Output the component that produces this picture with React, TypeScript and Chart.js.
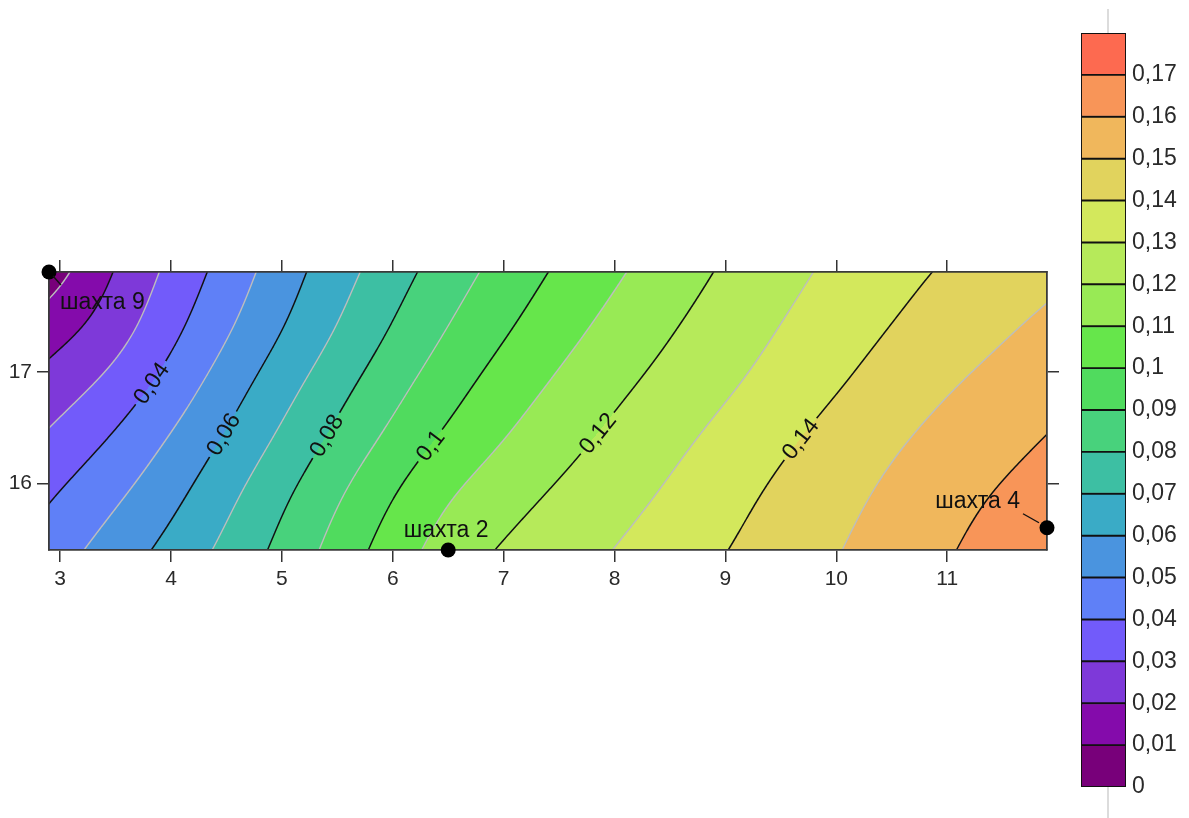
import React, { useEffect, useRef } from 'react';
import { Chart, registerables } from 'chart.js';

Chart.register(...registerables);

// ---------- data ----------
const gridX = [2.9, 3.4, 3.9, 4.4, 4.9, 5.4, 5.9, 6.4, 6.9, 7.4, 7.9, 8.4, 8.9, 9.4, 9.9, 10.4, 10.9, 11.4, 11.9];
const gridY = [17.9, 17.4, 16.9, 16.4, 15.9, 15.4];
const z179 = [0.005, 0.0183, 0.0302, 0.0417, 0.053, 0.0639, 0.0739, 0.0834, 0.0921, 0.1001, 0.1072, 0.1139, 0.1202, 0.1258, 0.1312, 0.136, 0.1404, 0.1441, 0.1475];
const z174 = [0.0155, 0.0226, 0.0346, 0.0462, 0.0572, 0.068, 0.0785, 0.0884, 0.0971, 0.1048, 0.1118, 0.1181, 0.1238, 0.1292, 0.1344, 0.1393, 0.1438, 0.148, 0.152];
const z169 = [0.0236, 0.0312, 0.0414, 0.0527, 0.0638, 0.0745, 0.0846, 0.0942, 0.1029, 0.1102, 0.1167, 0.1222, 0.1274, 0.1326, 0.138, 0.1432, 0.1482, 0.1524, 0.1563];
const z164 = [0.0316, 0.0395, 0.0489, 0.0588, 0.0697, 0.0803, 0.0905, 0.1003, 0.1085, 0.1153, 0.1212, 0.1264, 0.1318, 0.1372, 0.1426, 0.1476, 0.1524, 0.1568, 0.1605];
const z159 = [0.0392, 0.0468, 0.0551, 0.0653, 0.0763, 0.0868, 0.0978, 0.1082, 0.1151, 0.1206, 0.1254, 0.1302, 0.1357, 0.1411, 0.1461, 0.151, 0.1562, 0.1604, 0.1635];
const z154 = [0.045, 0.0529, 0.0612, 0.0704, 0.0805, 0.0913, 0.1029, 0.113, 0.1202, 0.1247, 0.1292, 0.134, 0.1388, 0.1436, 0.1485, 0.1534, 0.1585, 0.1627, 0.1665];
const fieldRows = [z179, z174, z169, z164, z159, z154];

const bandLevels = [0, 0.01, 0.02, 0.03, 0.04, 0.05, 0.06, 0.07, 0.08, 0.09, 0.1, 0.11, 0.12, 0.13, 0.14, 0.15, 0.16, 0.17, 0.18];
const bandColors = [
  '#78007a', '#840bab', '#7e39d9', '#725bfa', '#5f80f7', '#4a94df',
  '#3aabc6', '#3dbfa3', '#48d27c', '#50db5e', '#66e64b', '#98ea55',
  '#b6ea5a', '#d3e85c', '#e1d35d', '#f0b75c', '#f89558', '#fd6a50',
];
const colorbarTicks = [0, 0.01, 0.02, 0.03, 0.04, 0.05, 0.06, 0.07, 0.08, 0.09, 0.1, 0.11, 0.12, 0.13, 0.14, 0.15, 0.16, 0.17];

const xTicks = [3, 4, 5, 6, 7, 8, 9, 10, 11];
const yTicks = [16, 17];

const contourLabelLevels = [0.04, 0.06, 0.08, 0.1, 0.12, 0.14];
const contourLabelY = [16.9, 16.44, 16.43, 16.34, 16.45, 16.4];

const wellNames = ['шахта 9', 'шахта 2', 'шахта 4'];
const wellX = [2.9, 6.5, 11.9];
const wellY = [17.9, 15.4, 15.6];

// ---------- helpers ----------
const FONT = "'Liberation Sans', Arial, sans-serif";
const fmt = (v: number) => String(Math.round(v * 100) / 100).replace('.', ',');

function hexToRgb(h: string) {
  const n = parseInt(h.slice(1), 16);
  return [(n >> 16) & 255, (n >> 8) & 255, n & 255];
}

// uniform cubic B-spline blend (smooth surface through the read grid)
function bs(p0: number, p1: number, p2: number, p3: number, t: number) {
  const t2 = t * t, t3 = t2 * t;
  const b0 = (1 - t) * (1 - t) * (1 - t) / 6;
  const b1 = (3 * t3 - 6 * t2 + 4) / 6;
  const b2 = (-3 * t3 + 3 * t2 + 3 * t + 1) / 6;
  const b3 = t3 / 6;
  return b0 * p0 + b1 * p1 + b2 * p2 + b3 * p3;
}

function fieldAt(x: number, y: number) {
  const nx = gridX.length, ny = gridY.length;
  const fx = (x - gridX[0]) / (gridX[1] - gridX[0]);
  const fy = (gridY[0] - y) / (gridY[0] - gridY[1]);
  let i = Math.floor(fx), j = Math.floor(fy);
  i = Math.max(0, Math.min(nx - 2, i));
  j = Math.max(0, Math.min(ny - 2, j));
  const tx = fx - i, ty = fy - j;
  const col = (r: number[], k: number) => (k < 0 ? 2 * r[0] - r[1] : k > nx - 1 ? 2 * r[nx - 1] - r[nx - 2] : r[k]);
  const at = (jj: number, k: number) => {
    if (jj < 0) return 2 * col(fieldRows[0], k) - col(fieldRows[1], k);
    if (jj > ny - 1) return 2 * col(fieldRows[ny - 1], k) - col(fieldRows[ny - 2], k);
    return col(fieldRows[jj], k);
  };
  const v: number[] = [];
  for (let m = -1; m <= 2; m++) {
    v.push(bs(at(j + m, i - 1), at(j + m, i), at(j + m, i + 1), at(j + m, i + 2), tx));
  }
  return bs(v[0], v[1], v[2], v[3], ty);
}

const LABEL_FONT = 23;

const contourPlugin = {
  id: 'contourField',
  beforeDraw(chart: any) {
    const { ctx, chartArea: a, scales } = chart;
    const xs = scales.x, ys = scales.y;
    const W = Math.round(a.right - a.left), H = Math.round(a.bottom - a.top);
    const fpx = (px: number, py: number) => fieldAt(xs.getValueForPixel(px), ys.getValueForPixel(py));

    // filled bands
    const off = document.createElement('canvas');
    off.width = W; off.height = H;
    const octx = off.getContext('2d')!;
    const img = octx.createImageData(W, H);
    const rgb = bandColors.map(hexToRgb);
    const nb = bandColors.length;
    for (let py = 0; py < H; py++) {
      for (let px = 0; px < W; px++) {
        const v = fpx(a.left + px + 0.5, a.top + py + 0.5);
        let b = 0;
        while (b < nb - 1 && v >= bandLevels[b + 1]) b++;
        const o = (py * W + px) * 4;
        img.data[o] = rgb[b][0]; img.data[o + 1] = rgb[b][1]; img.data[o + 2] = rgb[b][2]; img.data[o + 3] = 255;
      }
    }
    octx.putImageData(img, 0, 0);
    ctx.drawImage(off, a.left, a.top);

    // contour labels placement
    ctx.save();
    ctx.font = `${LABEL_FONT}px ${FONT}`;
    const labels = contourLabelLevels.map((L, idx) => {
      const py = ys.getPixelForValue(contourLabelY[idx]);
      let prev = fpx(a.left, py), xl = a.left;
      for (let px = a.left + 1; px <= a.right; px++) {
        const v = fpx(px, py);
        if (prev < L && v >= L) { xl = px - 1 + (L - prev) / (v - prev); break; }
        prev = v;
      }
      const gx = (fpx(xl + 1, py) - fpx(xl - 1, py)) / 2;
      const gy = (fpx(xl, py + 1) - fpx(xl, py - 1)) / 2;
      const ang = Math.atan2(-gx, gy);
      const text = fmt(L);
      const w = ctx.measureText(text).width + 8;
      return { x: xl, y: py, ang, text, w, h: LABEL_FONT * 0.95 };
    });
    ctx.restore();

    // contour lines (marching squares)
    const s = 2;
    const cols = Math.floor(W / s) + 1, rows = Math.floor(H / s) + 1;
    const X = (c: number) => a.left + Math.min(c * s, W);
    const Y = (r: number) => a.top + Math.min(r * s, H);
    const F = new Float64Array(cols * rows);
    for (let r = 0; r < rows; r++) for (let c = 0; c < cols; c++) F[r * cols + c] = fpx(X(c), Y(r));

    ctx.save();
    ctx.beginPath();
    ctx.rect(a.left, a.top, W, H);
    for (const lb of labels) {
      const ca = Math.cos(lb.ang), sa = Math.sin(lb.ang);
      const pts = [[-lb.w / 2, -lb.h / 2], [lb.w / 2, -lb.h / 2], [lb.w / 2, lb.h / 2], [-lb.w / 2, lb.h / 2]];
      pts.forEach(([u, v], k) => {
        const px = lb.x + u * ca - v * sa, py = lb.y + u * sa + v * ca;
        if (k === 0) ctx.moveTo(px, py); else ctx.lineTo(px, py);
      });
      ctx.closePath();
    }
    ctx.clip('evenodd');
    ctx.lineCap = 'round';
    for (let k = 1; k < bandLevels.length - 1; k++) {
      const L = bandLevels[k];
      ctx.beginPath();
      for (let r = 0; r < rows - 1; r++) {
        for (let c = 0; c < cols - 1; c++) {
          const va = F[r * cols + c], vb = F[r * cols + c + 1], vc = F[(r + 1) * cols + c + 1], vd = F[(r + 1) * cols + c];
          const x0 = X(c), x1 = X(c + 1), y0 = Y(r), y1 = Y(r + 1);
          const p: number[][] = [];
          if ((va >= L) !== (vb >= L)) { const t = (L - va) / (vb - va); p.push([x0 + t * (x1 - x0), y0]); }
          if ((vb >= L) !== (vc >= L)) { const t = (L - vb) / (vc - vb); p.push([x1, y0 + t * (y1 - y0)]); }
          if ((vd >= L) !== (vc >= L)) { const t = (L - vd) / (vc - vd); p.push([x0 + t * (x1 - x0), y1]); }
          if ((va >= L) !== (vd >= L)) { const t = (L - va) / (vd - va); p.push([x0, y0 + t * (y1 - y0)]); }
          for (let q = 0; q + 1 < p.length; q += 2) {
            ctx.moveTo(p[q][0], p[q][1]);
            ctx.lineTo(p[q + 1][0], p[q + 1][1]);
          }
        }
      }
      const even = k % 2 === 0;
      ctx.strokeStyle = even ? '#111111' : '#bdbdbd';
      ctx.lineWidth = even ? 1.5 : 1.4;
      ctx.stroke();
    }
    ctx.restore();

    // label texts
    ctx.save();
    ctx.font = `${LABEL_FONT}px ${FONT}`;
    ctx.fillStyle = '#111';
    ctx.textAlign = 'center';
    ctx.textBaseline = 'middle';
    for (const lb of labels) {
      ctx.save();
      ctx.translate(lb.x, lb.y);
      ctx.rotate(lb.ang);
      ctx.fillText(lb.text, 0, 1);
      ctx.restore();
    }
    ctx.restore();
  },
  afterDatasetsDraw(chart: any) {
    const { ctx } = chart;
    const meta = chart.getDatasetMeta(0);
    const place = [
      { dx: 11, dy: 37, align: 'left', leader: [4, 4, 12, 13] },
      { dx: -2, dy: -13, align: 'center', leader: null },
      { dx: -27, dy: -20, align: 'right', leader: [-24, -14, -8, -5] },
    ];
    ctx.save();
    ctx.font = `${LABEL_FONT}px ${FONT}`;
    ctx.fillStyle = '#111';
    ctx.strokeStyle = '#111';
    ctx.lineWidth = 1.4;
    ctx.textBaseline = 'alphabetic';
    meta.data.forEach((pt: any, i: number) => {
      const p = place[i];
      ctx.textAlign = p.align as CanvasTextAlign;
      ctx.fillText(wellNames[i], pt.x + p.dx, pt.y + p.dy);
      if (p.leader) {
        ctx.beginPath();
        ctx.moveTo(pt.x + p.leader[0], pt.y + p.leader[1]);
        ctx.lineTo(pt.x + p.leader[2], pt.y + p.leader[3]);
        ctx.stroke();
      }
    });
    ctx.restore();
  },
};

const colorbarPlugin = {
  id: 'colorbarLine',
  afterDraw(chart: any) {
    const { ctx, chartArea: a } = chart;
    const cx = a.left + 27;
    ctx.save();
    ctx.strokeStyle = '#dcdcdc';
    ctx.lineWidth = 2;
    ctx.beginPath();
    ctx.moveTo(cx, 9); ctx.lineTo(cx, a.top);
    ctx.moveTo(cx, a.bottom); ctx.lineTo(cx, chart.height);
    ctx.stroke();
    ctx.restore();
  },
};

export default function App() {
  const mainRef = useRef<HTMLCanvasElement>(null);
  const barRef = useRef<HTMLCanvasElement>(null);

  useEffect(() => {
    Chart.defaults.font.family = FONT;
    const tickColor = '#2a2a2a';
    const gridOpts = { drawOnChartArea: false, drawTicks: true, tickLength: 12, color: '#333', lineWidth: 1.5 };
    const borderOpts = { display: true, color: '#3a3a3a', width: 1.8 };
    const setTicks = (vals: number[]) => (s: any) => { s.ticks = vals.map((v) => ({ value: v })); };

    const main = new Chart(mainRef.current!, {
      type: 'scatter',
      data: {
        datasets: [{
          data: wellX.map((x, i) => ({ x, y: wellY[i] })),
          pointRadius: 7.5,
          pointHoverRadius: 7.5,
          backgroundColor: '#000',
          borderWidth: 0,
          clip: false as any,
        }],
      },
      options: {
        responsive: false,
        animation: false,
        devicePixelRatio: 1,
        events: [],
        layout: { padding: { left: 9, right: 130, top: 260, bottom: 228 } },
        plugins: { legend: { display: false }, tooltip: { enabled: false } },
        scales: {
          x: {
            type: 'linear', position: 'bottom', min: 2.9, max: 11.9,
            afterBuildTicks: setTicks(xTicks),
            afterFit: (s: any) => { s.height = 40; },
            ticks: { font: { size: 21 }, color: tickColor, padding: 5, maxRotation: 0, callback: (v: any) => String(v) },
            grid: gridOpts, border: borderOpts,
          },
          x2: {
            type: 'linear', axis: 'x', position: 'top', min: 2.9, max: 11.9,
            afterBuildTicks: setTicks(xTicks),
            afterFit: (s: any) => { s.height = 12; },
            ticks: { display: false },
            grid: gridOpts, border: borderOpts,
          },
          y: {
            type: 'linear', position: 'left', min: 15.4, max: 17.9,
            afterBuildTicks: setTicks(yTicks),
            afterFit: (s: any) => { s.width = 40; },
            ticks: { font: { size: 21 }, color: tickColor, padding: 5, callback: (v: any) => String(v) },
            grid: gridOpts, border: borderOpts,
          },
          y2: {
            type: 'linear', axis: 'y', position: 'right', min: 15.4, max: 17.9,
            afterBuildTicks: setTicks(yTicks),
            afterFit: (s: any) => { s.width = 12; },
            ticks: { display: false },
            grid: gridOpts, border: borderOpts,
          },
        } as any,
      },
      plugins: [contourPlugin],
    });

    const bar = new Chart(barRef.current!, {
      type: 'bar',
      data: {
        labels: [''],
        datasets: bandColors.map((c, i) => ({
          data: [bandLevels[i + 1] - bandLevels[i]],
          backgroundColor: c,
          borderColor: '#111',
          borderWidth: 1.3,
          borderSkipped: false,
          barPercentage: 1,
          categoryPercentage: 1,
        })),
      },
      options: {
        responsive: false,
        animation: false,
        devicePixelRatio: 1,
        events: [],
        layout: { padding: { left: 11, right: 3, top: 33, bottom: 31 } },
        plugins: { legend: { display: false }, tooltip: { enabled: false } },
        scales: {
          x: { display: false, stacked: true },
          y: {
            stacked: true, position: 'right', min: 0, max: 0.18,
            afterBuildTicks: setTicks(colorbarTicks),
            afterFit: (s: any) => { s.width = 60; },
            ticks: { font: { size: 23 }, color: tickColor, padding: 6, callback: (v: any) => fmt(Number(v)) },
            grid: { display: false, drawTicks: false },
            border: { display: false },
          },
        } as any,
      },
      plugins: [colorbarPlugin],
    });

    return () => { main.destroy(); bar.destroy(); };
  }, []);

  return (
    <div style={{ position: 'absolute', left: 0, top: 0, width: 1189, height: 818, background: '#fff' }}>
      <canvas ref={mainRef} width={1189} height={818} style={{ position: 'absolute', left: 0, top: 0 }} />
      <canvas ref={barRef} width={119} height={818} style={{ position: 'absolute', left: 1070, top: 0 }} />
    </div>
  );
}
